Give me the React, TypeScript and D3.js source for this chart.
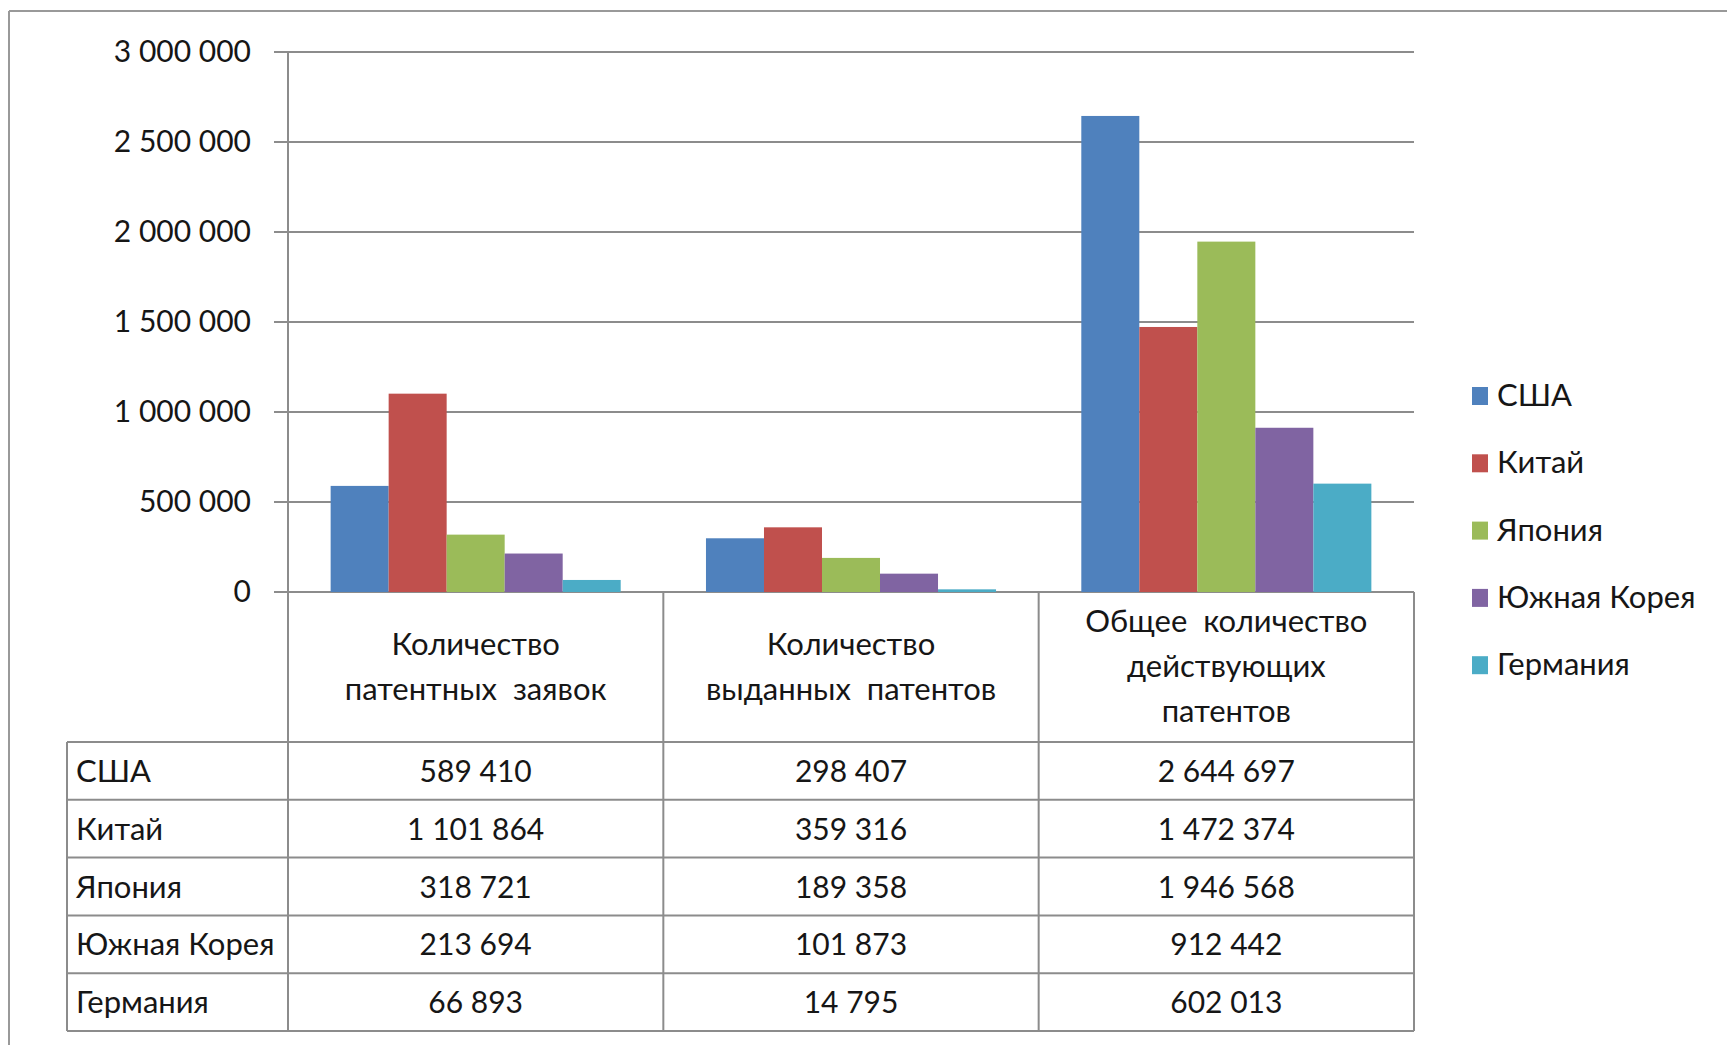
import React from 'react';
import * as d3 from 'd3';

// categories (multi-line labels, as in the table header)
const categoryLabels = [
    ['Количество', 'патентных  заявок'],
    ['Количество', 'выданных  патентов'],
    ['Общее  количество', 'действующих', 'патентов'],
];
const countries = ['США', 'Китай', 'Япония', 'Южная Корея', 'Германия'];
const applications = [589410, 1101864, 318721, 213694, 66893];
const granted = [298407, 359316, 189358, 101873, 14795];
const inForce = [2644697, 1472374, 1946568, 912442, 602013];
const colors = ['#4F81BD', '#C0504D', '#9BBB59', '#8064A2', '#4BACC6'];

const seriesByCategory = [applications, granted, inForce];

const dims = {
    width: 1727,
    height: 1045,
    plotLeft: 288,
    plotRight: 1414,
    plotTop: 52,
    plotBottom: 592,
    headerBottom: 742,
    tableBottom: 1031,
    tableLeft: 67,
};

const font = 'Lato, "Open Sans", sans-serif';
const ink = '#161616';
const lineColor = '#8c8c8c';

const ruLocale = d3.formatLocale({ decimal: ',', thousands: ' ', grouping: [3], currency: ['', ''] });
const fmt = ruLocale.format(',');

const App = () => {
    const catIdx = categoryLabels.map((_, i) => String(i));

    const x0 = d3.scaleBand()
        .domain(catIdx)
        .range([dims.plotLeft, dims.plotRight]);

    const x1 = d3.scaleBand()
        .domain(countries)
        .range([0, x0.bandwidth()])
        .paddingInner(0)
        .paddingOuter(0.735);

    const y = d3.scaleLinear()
        .domain([0, 3000000])
        .range([dims.plotBottom, dims.plotTop]);

    const rows = d3.scaleBand()
        .domain(countries)
        .range([dims.headerBottom, dims.tableBottom]);

    const headerMid = (dims.plotBottom + dims.headerBottom) / 2;
    const lineH = 45;

    return (
        <svg width={dims.width} height={dims.height}
            style={{ position: 'absolute', left: 0, top: 0, background: '#fff' }}
            fontFamily={font}>
            <rect x={0} y={0} width={dims.width} height={dims.height} fill="#fff" />
            {/* outer frame (top and left visible) */}
            <line x1={9} x2={dims.width} y1={11} y2={11} stroke="#999" strokeWidth={2} />
            <line x1={9} x2={9} y1={11} y2={dims.height} stroke="#999" strokeWidth={2} />

            {/* gridlines + y ticks */}
            {y.ticks(6).map(t => (
                <g key={t}>
                    <line x1={dims.plotLeft - 14} x2={dims.plotRight} y1={y(t)} y2={y(t)}
                        stroke={lineColor} strokeWidth={2} />
                    <text x={251} y={y(t) + 10} textAnchor="end" fontSize={30} fill={ink}>{fmt(t)}</text>
                </g>
            ))}

            {/* bars */}
            {seriesByCategory.map((vals, ci) => (
                <g key={ci} transform={`translate(${x0(String(ci))},0)`}>
                    {vals.map((v, si) => (
                        <rect key={si}
                            x={x1(countries[si])}
                            y={y(v)}
                            width={x1.bandwidth()}
                            height={y(0) - y(v)}
                            fill={colors[si]} />
                    ))}
                </g>
            ))}

            {/* data table */}
            <g stroke={lineColor} strokeWidth={2}>
                <line x1={dims.plotLeft} x2={dims.plotLeft} y1={dims.plotTop} y2={dims.tableBottom} />
                {catIdx.map(c => (
                    <line key={c} x1={x0(c)! + x0.bandwidth()} x2={x0(c)! + x0.bandwidth()}
                        y1={dims.plotBottom} y2={dims.tableBottom} />
                ))}
                <line x1={dims.tableLeft} x2={dims.tableLeft} y1={dims.headerBottom} y2={dims.tableBottom} />
                {countries.map(c => (
                    <line key={c} x1={dims.tableLeft} x2={dims.plotRight}
                        y1={rows(c)} y2={rows(c)} />
                ))}
                <line x1={dims.tableLeft} x2={dims.plotRight} y1={dims.tableBottom} y2={dims.tableBottom} />
            </g>

            {/* header labels */}
            {categoryLabels.map((lines, ci) => (
                <text key={ci} x={x0(String(ci))! + x0.bandwidth() / 2} textAnchor="middle"
                    fontSize={31} fill={ink} style={{ whiteSpace: 'pre' }}>
                    {lines.map((l, li) => (
                        <tspan key={li} x={x0(String(ci))! + x0.bandwidth() / 2}
                            y={headerMid + (li - (lines.length - 1) / 2) * lineH + 10}>{l}</tspan>
                    ))}
                </text>
            ))}

            {/* table rows */}
            {countries.map((c, si) => {
                const cy = rows(c)! + rows.bandwidth() / 2;
                return (
                    <g key={c}>
                        <text x={76} y={cy + 11} fontSize={31} fill={ink}>{c}</text>
                        {seriesByCategory.map((vals, ci) => (
                            <text key={ci} x={x0(String(ci))! + x0.bandwidth() / 2} y={cy + 11}
                                textAnchor="middle" fontSize={30} fill={ink}>{fmt(vals[si])}</text>
                        ))}
                    </g>
                );
            })}

            {/* legend */}
            {countries.map((c, si) => (
                <g key={c} transform={`translate(1472, ${396 + si * 67.3})`}>
                    <rect x={0} y={-9} width={16} height={18} fill={colors[si]} />
                    <text x={25} y={10} fontSize={31} fill={ink}>{c}</text>
                </g>
            ))}
        </svg>
    );
};

export default App;
